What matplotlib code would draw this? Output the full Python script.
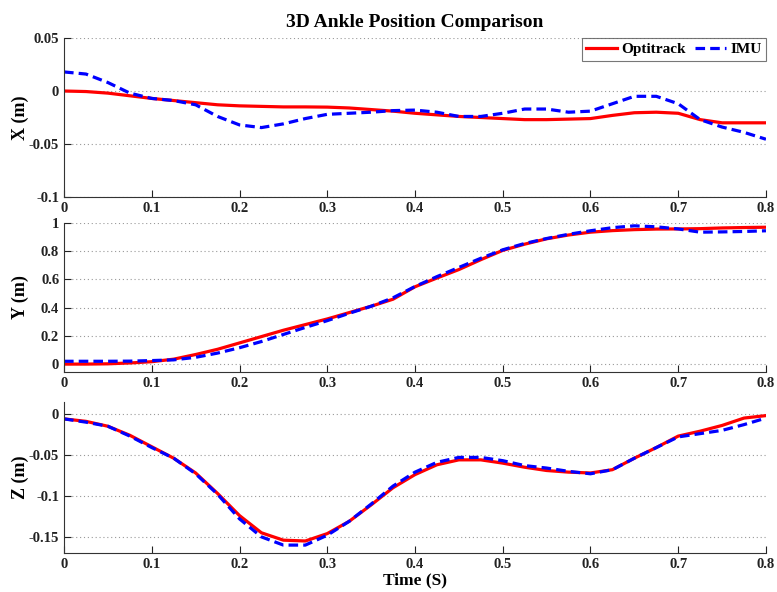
import numpy as np
import matplotlib
matplotlib.use('Agg')
import matplotlib.pyplot as plt
from matplotlib.ticker import FuncFormatter

plt.rcParams['font.family'] = ['Liberation Serif', 'DejaVu Serif']
plt.rcParams['font.weight'] = 'bold'

# time base (s)
t = [0.0, 0.025, 0.05, 0.075, 0.1, 0.125, 0.15, 0.175, 0.2, 0.225, 0.25,
     0.275, 0.3, 0.325, 0.35, 0.375, 0.4, 0.425, 0.45, 0.475, 0.5, 0.525,
     0.55, 0.575, 0.6, 0.625, 0.65, 0.675, 0.7, 0.725, 0.75, 0.775, 0.8]

x_opti = [0.0, -0.0005, -0.002, -0.0045, -0.007, -0.009, -0.011, -0.013, -0.014,
          -0.0145, -0.015, -0.015, -0.0152, -0.016, -0.0175, -0.019, -0.021,
          -0.0225, -0.024, -0.025, -0.026, -0.027, -0.027, -0.0265, -0.026,
          -0.023, -0.0205, -0.020, -0.021, -0.027, -0.030, -0.030, -0.030]
x_imu = [0.018, 0.016, 0.008, -0.002, -0.007, -0.009, -0.013, -0.024, -0.032,
         -0.0345, -0.031, -0.026, -0.022, -0.021, -0.020, -0.0185, -0.018,
         -0.020, -0.024, -0.024, -0.021, -0.017, -0.017, -0.020, -0.019,
         -0.012, -0.005, -0.005, -0.012, -0.027, -0.034, -0.039, -0.0455]

y_opti = [0.0, 0.0, 0.002, 0.008, 0.017, 0.035, 0.068, 0.105, 0.15, 0.195, 0.24,
          0.28, 0.32, 0.365, 0.41, 0.46, 0.548, 0.61, 0.67, 0.74, 0.806, 0.85,
          0.888, 0.915, 0.935, 0.946, 0.953, 0.957, 0.958, 0.96, 0.965, 0.968, 0.97]
y_imu = [0.02, 0.02, 0.02, 0.021, 0.025, 0.03, 0.048, 0.078, 0.116, 0.16, 0.21,
         0.26, 0.308, 0.36, 0.41, 0.47, 0.55, 0.62, 0.685, 0.75, 0.81, 0.855,
         0.89, 0.92, 0.945, 0.967, 0.98, 0.973, 0.958, 0.935, 0.937, 0.94, 0.945]

z_opti = [-0.006, -0.009, -0.015, -0.026, -0.040, -0.054, -0.072, -0.097, -0.124,
          -0.145, -0.154, -0.155, -0.146, -0.131, -0.111, -0.090, -0.074, -0.062,
          -0.056, -0.056, -0.060, -0.065, -0.069, -0.071, -0.072, -0.068, -0.054,
          -0.041, -0.027, -0.021, -0.014, -0.005, -0.002]
z_imu = [-0.006, -0.010, -0.015, -0.027, -0.041, -0.054, -0.073, -0.098, -0.128,
         -0.150, -0.160, -0.160, -0.148, -0.131, -0.110, -0.088, -0.071, -0.059,
         -0.053, -0.053, -0.057, -0.063, -0.066, -0.070, -0.073, -0.068, -0.054,
         -0.041, -0.028, -0.024, -0.020, -0.013, -0.005]

fig = plt.figure(figsize=(7.77, 5.92), dpi=100)
pos = [[0.0824, 0.6672, 0.9034, 0.2686],
       [0.0824, 0.3721, 0.9034, 0.2512],
       [0.0824, 0.0654, 0.9034, 0.2561]]
panels = [(x_opti, x_imu, 'X (m)', (-0.1, 0.05), [-0.1, -0.05, 0, 0.05]),
          (y_opti, y_imu, 'Y (m)', (-0.054, 1.0), [0, 0.2, 0.4, 0.6, 0.8, 1]),
          (z_opti, z_imu, 'Z (m)', (-0.17, 0.015), [-0.15, -0.1, -0.05, 0])]

fmt = FuncFormatter(lambda v, p: '%g' % round(v, 3) if abs(v) > 1e-9 else '0')
axes = []
for p, (opti, imu, lab, yl, yt) in zip(pos, panels):
    ax = fig.add_axes(p)
    ax.plot(t, opti, color='#ff0000', lw=2.3, label='Optitrack')
    ax.plot(t, imu, color='#0000ff', lw=2.3, ls=(0, (3, 1.6)), label='IMU')
    ax.set_xlim(0, 0.8)
    ax.set_ylim(*yl)
    ax.set_yticks(yt)
    ax.set_xticks(np.arange(0, 0.81, 0.1))
    ax.xaxis.set_major_formatter(fmt)
    ax.yaxis.set_major_formatter(fmt)
    ax.yaxis.grid(True, ls=(0, (1, 2.5)), color='#999999', lw=0.8)
    ax.spines['top'].set_visible(False)
    ax.spines['right'].set_visible(False)
    for s in ['left', 'bottom']:
        ax.spines[s].set_color('#333333')
    ax.tick_params(direction='in', length=5, labelsize=10.5, colors='#222222',
                   top=False, right=False)
    for lbl in ax.get_xticklabels() + ax.get_yticklabels():
        lbl.set_fontweight('bold')
    ax.set_ylabel(lab, fontsize=13, fontweight='bold')
    ax.yaxis.set_label_coords(-0.05, 0.5)
    axes.append(ax)

axes[0].set_title('3D Ankle Position Comparison', fontsize=14, fontweight='bold', pad=8)
leg = axes[0].legend(loc='upper right', ncol=2, fontsize=11, frameon=True, fancybox=False,
                     borderaxespad=0, handlelength=2.0, handletextpad=0.3,
                     columnspacing=0.6, borderpad=0.3)
leg.get_frame().set_edgecolor('#555555')
leg.get_frame().set_linewidth(0.8)
for txt in leg.get_texts():
    txt.set_fontweight('bold')
axes[2].set_xlabel('Time (S)', fontsize=12.5, fontweight='bold', labelpad=1)

fig.savefig('out.png', dpi=100)
